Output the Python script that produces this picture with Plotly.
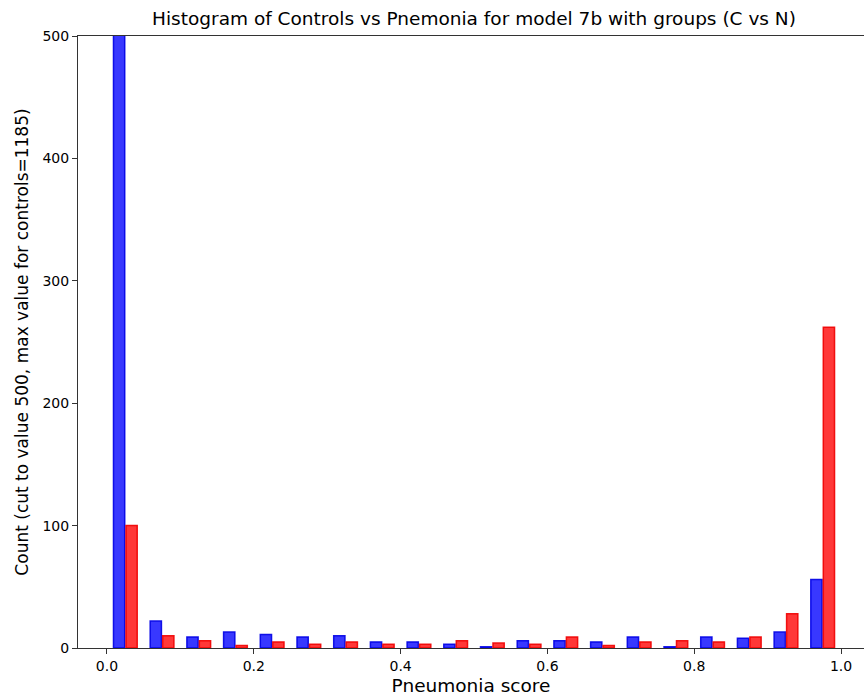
import numpy as np
import plotly.graph_objects as go

# 20 equal-width bins over the pneumonia score range
bin_edges = np.linspace(0.0, 1.0, 21)
bin_centers = (bin_edges[:-1] + bin_edges[1:]) / 2

# Counts per bin
controls = [1185, 22, 9, 13, 11, 9, 10, 5, 5, 3, 1, 6, 6, 5, 9, 1, 9, 8, 13, 56]
pneumonia = [100, 10, 6, 2, 5, 3, 5, 3, 3, 6, 4, 3, 9, 2, 5, 6, 5, 9, 28, 262]

y_cut = 500
x_ticks = [0.0, 0.2, 0.4, 0.6, 0.8, 1.0]
y_ticks = [0, 100, 200, 300, 400, 500]

font_family = "DejaVu Sans, sans-serif"

fig = go.Figure()
fig.add_trace(go.Bar(
    x=bin_centers, y=controls, name="Controls",
    marker=dict(color="rgba(0,0,255,0.78)",
                line=dict(color="rgba(0,0,230,0.9)", width=1.5)),
))
fig.add_trace(go.Bar(
    x=bin_centers, y=pneumonia, name="Pneumonia",
    marker=dict(color="rgba(255,0,0,0.78)",
                line=dict(color="rgba(240,0,0,0.9)", width=1.5)),
))

fig.update_layout(
    width=864, height=700,
    margin=dict(l=78, r=0, t=36, b=52),
    paper_bgcolor="white", plot_bgcolor="white",
    barmode="group", bargap=0.32, bargroupgap=0.1,
    showlegend=False,
    font=dict(family=font_family, size=14, color="black"),
    title=dict(
        text="Histogram of Controls vs Pnemonia for model 7b with groups (C vs N)",
        x=0.5486, xanchor="center", xref="container",
        y=1 - 19 / 700, yanchor="middle", yref="container",
        font=dict(family=font_family, size=18.5, color="black"),
    ),
)

fig.update_xaxes(
    range=[-0.0395, 1.0313],
    tickvals=x_ticks, ticktext=[f"{v:.1f}" for v in x_ticks],
    ticks="outside", ticklen=5, tickwidth=1, tickcolor="#333",
    showline=True, linecolor="#333", linewidth=1, mirror=True,
    showgrid=False, zeroline=False,
    tickfont=dict(size=14),
    title=dict(text="Pneumonia score", font=dict(size=18.5), standoff=6),
)
fig.update_yaxes(
    range=[0, y_cut],
    tickvals=y_ticks,
    ticks="outside", ticklen=5, tickwidth=1, tickcolor="#333",
    showline=True, linecolor="#333", linewidth=1, mirror=False,
    showgrid=False, zeroline=False,
    tickfont=dict(size=14),
    title=dict(text="Count (cut to value 500, max value for controls=1185)",
               font=dict(size=17), standoff=9),
)

fig.write_html("out.html")
